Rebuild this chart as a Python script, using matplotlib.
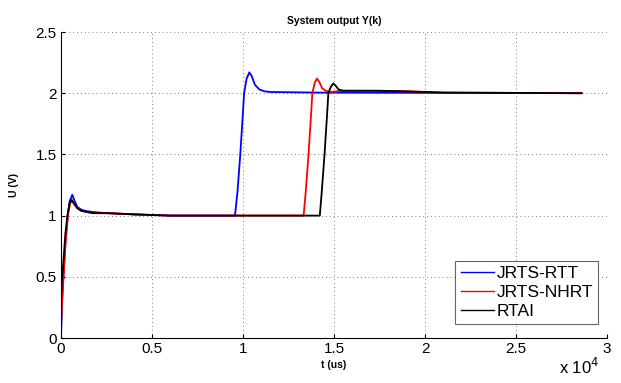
import matplotlib
matplotlib.use("Agg")
import matplotlib.pyplot as plt

# waypoints (time in us, output in V)
t_rtt = [0, 60, 130, 250, 370, 480, 620, 750, 900, 1100, 1300, 1700, 2500, 4000, 6000, 9500, 9560,
         9700, 9850, 10000, 10060, 10200, 10350, 10480, 10650, 10900, 11200, 11500, 14000, 20000, 28600]
y_rtt = [0.0, 0.3, 0.5, 0.8, 1.0, 1.12, 1.17, 1.12, 1.07, 1.05, 1.04, 1.03, 1.02, 1.01, 1.0, 1.0, 1.0,
         1.2, 1.5, 1.85, 2.0, 2.12, 2.17, 2.14, 2.07, 2.03, 2.015, 2.01, 2.005, 2.003, 2.0]

t_nhrt = [0, 60, 140, 260, 380, 500, 600, 720, 900, 1100, 1400, 1800, 2600, 4000, 6000, 13300, 13330,
          13450, 13600, 13750, 13810, 13950, 14070, 14200, 14350, 14550, 14800, 15500, 17000, 19000, 21000, 28600]
y_nhrt = [0.1, 0.3, 0.5, 0.8, 1.0, 1.1, 1.12, 1.1, 1.06, 1.04, 1.03, 1.02, 1.02, 1.01, 1.0, 1.0, 1.0,
          1.2, 1.5, 1.85, 2.0, 2.09, 2.12, 2.09, 2.04, 2.02, 2.01, 2.02, 2.02, 2.015, 2.005, 2.0]

t_rtai = [0, 40, 120, 240, 350, 470, 580, 700, 900, 1100, 1400, 1800, 2600, 4000, 6000, 14190, 14220,
          14330, 14480, 14630, 14690, 14820, 14960, 15100, 15250, 15500, 16000, 17500, 19000, 21000, 28600]
y_rtai = [0.3, 0.45, 0.6, 0.85, 1.0, 1.1, 1.13, 1.1, 1.06, 1.04, 1.03, 1.02, 1.02, 1.01, 1.0, 1.0, 1.0,
          1.2, 1.5, 1.85, 2.0, 2.05, 2.08, 2.06, 2.03, 2.02, 2.02, 2.02, 2.015, 2.005, 2.0]

series_names = ["JRTS-RTT", "JRTS-NHRT", "RTAI"]
series_colors = ["#0000ff", "#ff0000", "#000000"]

xticks = [0, 5000, 10000, 15000, 20000, 25000, 30000]
xticklabels = ["0", "0.5", "1", "1.5", "2", "2.5", "3"]
yticks = [0, 0.5, 1, 1.5, 2, 2.5]
yticklabels = ["0", "0.5", "1", "1.5", "2", "2.5"]

plt.rcParams["font.family"] = ["Liberation Sans", "DejaVu Sans"]

fig = plt.figure(figsize=(6.21, 3.83), dpi=100)
ax = fig.add_axes([61 / 621, 1 - 338 / 383, (607 - 61) / 621, (338 - 32) / 383])

for t, y, name, c in zip([t_rtt, t_nhrt, t_rtai], [y_rtt, y_nhrt, y_rtai], series_names, series_colors):
    ax.plot(t, y, color=c, lw=1.3, label=name)

ax.set_xlim(0, 30000)
ax.set_ylim(0, 2.5)
ax.set_xticks(xticks)
ax.set_xticklabels(xticklabels, fontsize=11)
ax.set_yticks(yticks)
ax.set_yticklabels(yticklabels, fontsize=11)
ax.tick_params(direction="in", length=3, width=0.8, pad=3)
ax.grid(True, linestyle=(0, (1, 3)), color="#808080", lw=0.7)
for s in ["top", "right"]:
    ax.spines[s].set_visible(False)
for s in ["left", "bottom"]:
    ax.spines[s].set_linewidth(0.8)

ax.set_title("System output Y(k)", fontsize=7.5, fontweight="bold", pad=6)
ax.set_xlabel("t (us)", fontsize=7.5, fontweight="bold", labelpad=3)
ax.set_ylabel("U (V)", fontsize=7.5, fontweight="bold", labelpad=12)

fig.text(559 / 621, 1 - 367 / 383, r"x 10$^{4}$", fontsize=12, ha="left", va="center")

leg = ax.legend(loc="lower right", bbox_to_anchor=(1 - 9 / 546, 14 / 306), fontsize=12.5, frameon=True,
                fancybox=False, edgecolor="#404040", handlelength=1.9, handletextpad=0.15,
                borderpad=0.3, labelspacing=0.21, borderaxespad=0.0)
leg.get_frame().set_linewidth(0.8)
for h in leg.get_lines():
    h.set_linewidth(1.0)

fig.savefig("out.png", dpi=100)
